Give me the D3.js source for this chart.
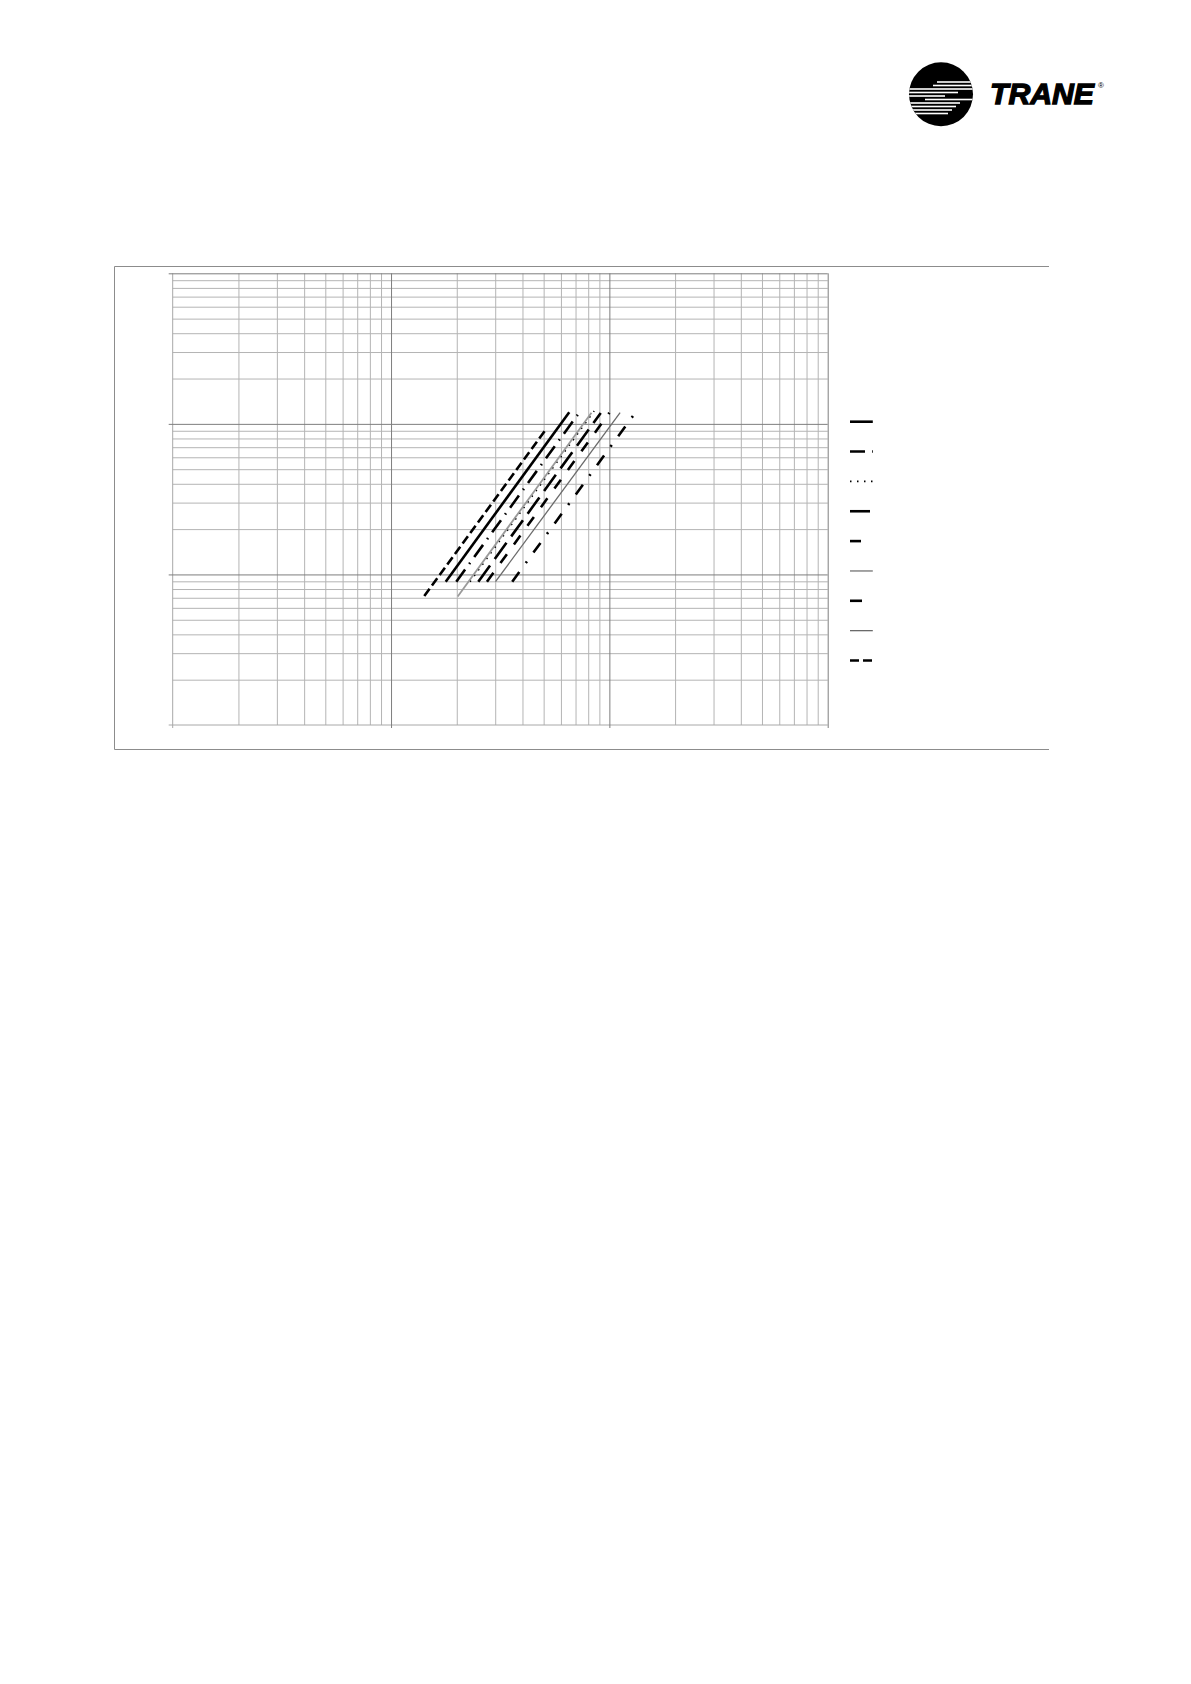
<!DOCTYPE html>
<html>
<head>
<meta charset="utf-8">
<script src="https://cdn.jsdelivr.net/npm/d3@7"></script>
<style>
  html, body { margin: 0; padding: 0; background: #fff; }
  svg { display: block; }
</style>
</head>
<body>
<svg id="page" width="1191" height="1684"></svg>
<script>
// ---------------- DATA ----------------
// Log-log axes (no labels shown in the reference)
const xDomain = [0.1, 100];
const yDomain = [1, 1000];
const xMajorTicks = [0.1, 1, 10, 100];
const xMinorTicks = [0.2,0.3,0.4,0.5,0.6,0.7,0.8,0.9, 2,3,4,5,6,7,8,9, 20,30,40,50,60,70,80,90];
const yMajorTicks = [1, 10, 100, 1000];
const yMinorTicks = [2,3,4,5,6,7,8,9, 20,30,40,50,60,70,80,90, 200,300,400,500,600,700,800,900];

// Nine curves (legend order), each a straight line in log-log space
const seriesIds  = ["s1", "s2", "s3", "s4", "s5", "s6", "s7", "s8", "s9"];
const startFlow  = [1.78, 1.99, 2.30, 2.51, 2.75, 2.02, 3.59, 3.01, 1.42];
const startDrop  = [8.95, 8.95, 8.95, 8.95, 8.95, 7.14, 8.95, 8.95, 7.19];
const endFlow    = [6.55, 7.27, 8.52, 9.13, 10.0, 8.28, 13.15, 11.2, 5.06];
const endDrop    = [119.4, 118.6, 121.7, 118.1, 118.6, 118.6, 118.6, 118.6, 89.7];

// ---------------- STYLE ----------------
const seriesStyle = {
  s1: { color: "#000", width: 2.6, dash: null },
  s2: { color: "#000", width: 2.6, dash: "15,7,1.5,7" },
  s3: { color: "#000", width: 1.6, dash: "1.5,5.5" },
  s4: { color: "#000", width: 2.6, dash: "20,8" },
  s5: { color: "#000", width: 2.6, dash: "11,12" },
  s6: { color: "#9a9a9a", width: 1.8, dash: null },
  s7: { color: "#000", width: 2.6, dash: "12,11,2,11" },
  s8: { color: "#6a6a6a", width: 1.3, dash: null },
  s9: { color: "#000", width: 2.6, dash: "9,4" }
};

const svg = d3.select("#page");

// ---------------- OUTER FRAME ----------------
const frame = { left: 114.5, top: 266.5, right: 1049, bottom: 749.5 };
svg.append("line").attr("x1", frame.left).attr("x2", frame.right).attr("y1", frame.top).attr("y2", frame.top)
  .attr("stroke", "#8c8c8c").attr("stroke-width", 1);
svg.append("line").attr("x1", frame.left).attr("x2", frame.right).attr("y1", frame.bottom).attr("y2", frame.bottom)
  .attr("stroke", "#8c8c8c").attr("stroke-width", 1);
svg.append("line").attr("x1", frame.left).attr("x2", frame.left).attr("y1", frame.top).attr("y2", frame.bottom)
  .attr("stroke", "#8c8c8c").attr("stroke-width", 1);

// ---------------- PLOT ----------------
const plot = { left: 172.7, right: 827.7, top: 273.3, bottom: 725 };
const W = plot.right - plot.left, H = plot.bottom - plot.top;
const x = d3.scaleLog().domain(xDomain).range([plot.left, plot.right]);
const y = d3.scaleLog().domain(yDomain).range([plot.bottom, plot.top]);

const g = svg.append("g");

// minor gridlines
g.append("g").attr("transform", `translate(0,${plot.bottom})`)
  .call(d3.axisBottom(x).tickValues(xMinorTicks).tickSize(-H).tickFormat(""))
  .call(s => s.select(".domain").remove())
  .call(s => s.selectAll(".tick line").attr("stroke", "#b4b4b4").attr("stroke-width", 1));
g.append("g").attr("transform", `translate(${plot.left},0)`)
  .call(d3.axisLeft(y).tickValues(yMinorTicks).tickSize(-W).tickFormat(""))
  .call(s => s.select(".domain").remove())
  .call(s => s.selectAll(".tick line").attr("stroke", "#b4b4b4").attr("stroke-width", 1));

// left & bottom axis lines (light)
g.append("line").attr("x1", plot.left).attr("x2", plot.left).attr("y1", plot.top).attr("y2", plot.bottom + 3)
  .attr("stroke", "#a8a8a8");
g.append("line").attr("x1", plot.left - 4).attr("x2", plot.right).attr("y1", plot.bottom).attr("y2", plot.bottom)
  .attr("stroke", "#a8a8a8");

// major gridlines (darker) with small outer ticks
g.append("g").attr("transform", `translate(0,${plot.bottom + 3})`)
  .call(d3.axisBottom(x).tickValues(xMajorTicks.slice(1)).tickSize(-(H + 3)).tickFormat(""))
  .call(s => s.select(".domain").remove())
  .call(s => s.selectAll(".tick line").attr("stroke", "#7e7e7e").attr("stroke-width", 1));
g.append("g").attr("transform", `translate(${plot.left - 4},0)`)
  .call(d3.axisLeft(y).tickValues(yMajorTicks.slice(1)).tickSize(-(W + 4)).tickFormat(""))
  .call(s => s.select(".domain").remove())
  .call(s => s.selectAll(".tick line").attr("stroke", "#7e7e7e").attr("stroke-width", 1));

// ---------------- CURVES ----------------
const lineGen = d3.line().x(d => x(d[0])).y(d => y(d[1]));
seriesIds.forEach((id, i) => {
  const st = seriesStyle[id];
  const pts = [[startFlow[i], startDrop[i]], [endFlow[i], endDrop[i]]];
  g.append("path").datum(pts)
    .attr("d", lineGen)
    .attr("fill", "none")
    .attr("stroke", st.color)
    .attr("stroke-width", st.width)
    .attr("stroke-dasharray", st.dash)
    .attr("stroke-linecap", "butt");
});

// ---------------- LEGEND (samples only) ----------------
const legend = svg.append("g").attr("transform", "translate(850,421.7)");
seriesIds.forEach((id, i) => {
  const st = seriesStyle[id];
  legend.append("line")
    .attr("x1", 0).attr("x2", 22.8)
    .attr("y1", i * 29.85).attr("y2", i * 29.85)
    .attr("stroke", st.color)
    .attr("stroke-width", st.width)
    .attr("stroke-dasharray", st.dash);
});

// ---------------- LOGO ----------------
const logo = svg.append("g");
const cx = 941, cy = 94.3, r = 32;
logo.append("clipPath").attr("id", "logoClip").append("circle").attr("cx", cx).attr("cy", cy).attr("r", r);
logo.append("circle").attr("cx", cx).attr("cy", cy).attr("r", r).attr("fill", "#000");
const stripes = [
  [82.0, 937, 975], [85.5, 933, 975], [89.0, 906, 975], [92.5, 906, 958],
  [96.0, 906, 945], [99.5, 925, 975], [103.0, 906, 960], [106.5, 906, 956],
  [110.0, 906, 952], [113.5, 906, 948]
];
const sg = logo.append("g").attr("clip-path", "url(#logoClip)");
stripes.forEach(s => {
  sg.append("rect").attr("x", s[1]).attr("y", s[0] - 0.8).attr("width", s[2] - s[1]).attr("height", 1.6).attr("fill", "#fff");
});
logo.append("text")
  .attr("x", 990).attr("y", 104)
  .attr("font-family", "'Liberation Sans', Arial, sans-serif")
  .attr("font-weight", "bold").attr("font-style", "italic")
  .attr("font-size", 30)
  .attr("textLength", 104).attr("lengthAdjust", "spacingAndGlyphs")
  .attr("stroke", "#000").attr("stroke-width", 1.3)
  .attr("fill", "#000")
  .text("TRANE");
logo.append("text")
  .attr("x", 1098).attr("y", 88)
  .attr("font-family", "'Liberation Sans', Arial, sans-serif")
  .attr("font-size", 8)
  .attr("fill", "#000")
  .text("®");
</script>
</body>
</html>
